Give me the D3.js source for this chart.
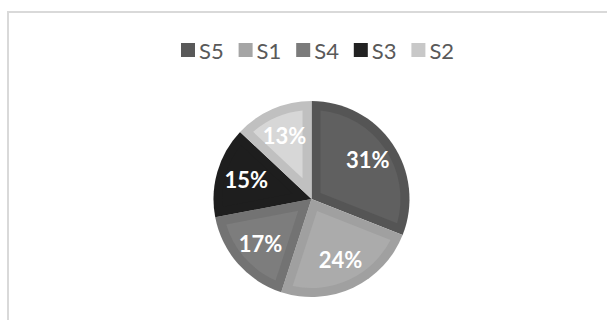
<!DOCTYPE html>
<html>
<head>
<meta charset="utf-8">
<script src="https://cdn.jsdelivr.net/npm/d3@7"></script>
<style>
  html, body { margin: 0; padding: 0; background: #ffffff; }
  svg { display: block; }
</style>
</head>
<body>
<svg id="chart" width="607" height="320"></svg>
<script>
// Series shares, in drawing order (clockwise from 12 o'clock)
const categories = ["S5", "S1", "S4", "S3", "S2"];
const values = [31, 24, 17, 15, 13];
const percentLabels = ["31%", "24%", "17%", "15%", "13%"];

// Fill colours: outer bevel band, inner face, legend swatch
const bandColors = ["#555555", "#a0a0a0", "#737373", "#1e1e1e", "#c0c0c0"];
const faceColors = ["#606060", "#ababab", "#7d7d7d", "#1e1e1e", "#d7d7d7"];
const swatchColors = ["#595959", "#a5a5a5", "#7b7b7b", "#222222", "#c8c8c8"];

const svg = d3.select("#chart");

// Chart area frame
svg.append("rect")
  .attr("x", 8).attr("y", 12)
  .attr("width", 640).attr("height", 340)
  .attr("fill", "#ffffff")
  .attr("stroke", "#d9d9d9")
  .attr("stroke-width", 2);

// Legend
const legend = svg.append("g").attr("transform", "translate(181,50)");
const itemStep = 57.6;
const item = legend.selectAll("g.item")
  .data(categories)
  .join("g")
  .attr("class", "item")
  .attr("transform", (d, i) => `translate(${i * itemStep},0)`);
item.append("rect")
  .attr("x", 0).attr("y", -7)
  .attr("width", 14).attr("height", 14)
  .attr("fill", (d, i) => swatchColors[i]);
item.append("text")
  .attr("x", 18).attr("y", 1)
  .attr("dy", "0.35em")
  .attr("font-family", "Lato, 'Open Sans', sans-serif")
  .attr("font-size", 22)
  .attr("fill", "#595959")
  .text(d => d);

// Pie
const cx = 311.5, cy = 199, R = 98;
const bevel = 9;
const g = svg.append("g").attr("transform", `translate(${cx},${cy})`);

const pie = d3.pie().sort(null).value(d => d);
const arcs = pie(values);

const outerArc = d3.arc().innerRadius(0).outerRadius(R);

// Inner face of a slice: the slice shrunk inward by the bevel width
function facePath(a) {
  const theta = a.endAngle - a.startAngle;
  const r2 = R - bevel;
  const t = Math.sqrt(r2 * r2 - bevel * bevel);
  // d3 angles: 0 at 12 o'clock, clockwise; point = (sin a, -cos a)
  const dir = ang => [Math.sin(ang), -Math.cos(ang)];
  const [u0x, u0y] = dir(a.startAngle);
  const [u1x, u1y] = dir(a.endAngle);
  // inward normals of the two straight edges
  const n0x = Math.cos(a.startAngle), n0y = Math.sin(a.startAngle);
  const n1x = -Math.cos(a.endAngle), n1y = -Math.sin(a.endAngle);
  const apexDist = bevel / Math.sin(theta / 2);
  const [mx, my] = dir((a.startAngle + a.endAngle) / 2);
  const s0x = u0x * t + n0x * bevel, s0y = u0y * t + n0y * bevel;
  const e1x = u1x * t + n1x * bevel, e1y = u1y * t + n1y * bevel;
  const p = d3.path();
  p.moveTo(mx * apexDist, my * apexDist);
  p.lineTo(s0x, s0y);
  p.arc(0, 0, r2, Math.atan2(s0y, s0x), Math.atan2(e1y, e1x), false);
  p.closePath();
  return p.toString();
}

g.selectAll("path.band")
  .data(arcs)
  .join("path")
  .attr("class", "band")
  .attr("d", outerArc)
  .attr("fill", (d, i) => bandColors[i]);

g.selectAll("path.face")
  .data(arcs)
  .join("path")
  .attr("class", "face")
  .attr("d", facePath)
  .attr("fill", (d, i) => faceColors[i]);

// Percentage labels
const labelArc = d3.arc().innerRadius(68).outerRadius(68);
g.selectAll("text.pct")
  .data(arcs)
  .join("text")
  .attr("class", "pct")
  .attr("transform", d => `translate(${labelArc.centroid(d)})`)
  .attr("text-anchor", "middle")
  .attr("dy", "0.35em")
  .attr("font-family", "Lato, 'Open Sans', sans-serif")
  .attr("font-weight", "bold")
  .attr("font-size", 22)
  .attr("fill", "#ffffff")
  .text((d, i) => percentLabels[i]);
</script>
</body>
</html>
